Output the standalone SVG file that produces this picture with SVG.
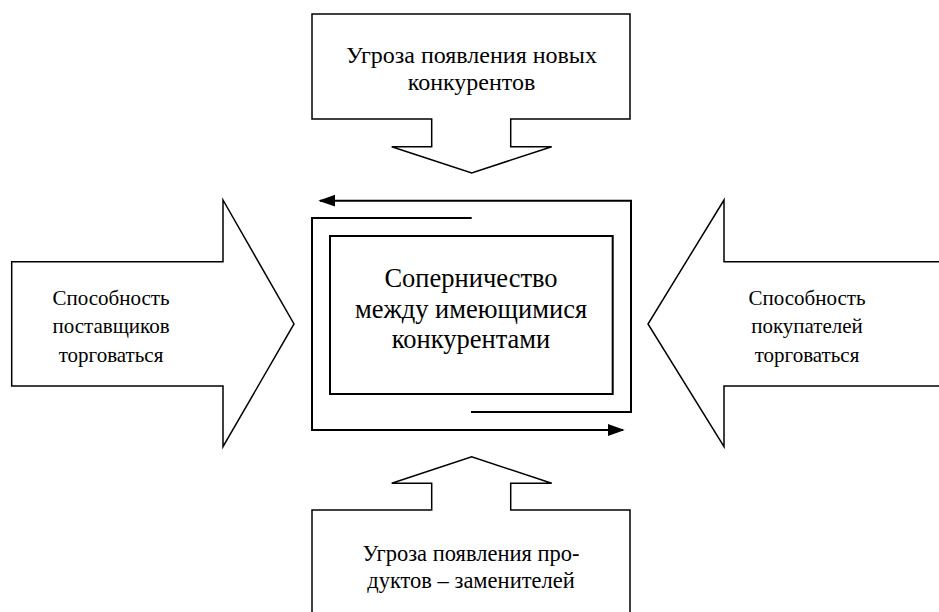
<svg xmlns="http://www.w3.org/2000/svg" width="939" height="612" viewBox="0 0 939 612">
<defs>
<style>
.shape{fill:#fff;stroke:#000;stroke-width:1.5;stroke-linejoin:miter}
.loop{fill:none;stroke:#000;stroke-width:2}
.t{font-family:"Liberation Serif","Times New Roman",serif;fill:#000;text-anchor:middle}
.s24{font-size:24px}
.s22{font-size:22.5px}
.s21{font-size:21px}
.s26{font-size:26.5px}
</style>
<marker id="ah2" viewBox="0 0 10 10" refX="9" refY="5" markerWidth="17" markerHeight="12" markerUnits="userSpaceOnUse" orient="auto" preserveAspectRatio="none">
<path d="M0,0 L10,5 L0,10 z" fill="#000"/>
</marker>
</defs>
<rect width="939" height="612" fill="#fff"/>
<g id="top">
<path class="shape" d="M312,14 H630 V119 H510.7 V146.7 H551.7 L471.7,173 L391.7,146.7 H431.7 V119 H312 Z"/>
<text class="t s24" x="471.5" y="63">Угроза появления новых</text>
<text class="t s24" x="471.5" y="90">конкурентов</text>
</g>
<g id="left">
<path class="shape" d="M11.7,261.7 H223 V200 L294,324 L223,446.7 V386 H11.7 Z"/>
<text class="t s21" x="111" y="305">Способность</text>
<text class="t s21" x="111" y="333">поставщиков</text>
<text class="t s21" x="111" y="362">торговаться</text>
</g>
<g id="right">
<path class="shape" d="M945,261.7 H724 V200 L648,324 L724,446.7 V386 H945"/>
<text class="t s21" x="807" y="305">Способность</text>
<text class="t s21" x="807" y="333">покупателей</text>
<text class="t s21" x="807" y="362">торговаться</text>
</g>
<g id="bottom">
<path class="shape" d="M312,620 V510 H431.7 V483.3 H391.7 L471.7,456.7 L551.7,483.3 H510.7 V510 H630 V620"/>
<text class="t s22" x="471" y="561">Угроза появления про-</text>
<text class="t s22" x="471" y="588">дуктов – заменителей</text>
</g>
<g id="center">
<rect class="loop" x="330" y="236" width="282.7" height="158"/>
<text class="t s26" x="471" y="287">Соперничество</text>
<text class="t s26" x="471" y="318">между имеющимися</text>
<text class="t s26" x="471" y="348">конкурентами</text>
</g>
<g id="connectors">
<path class="loop" d="M471,412 H631 V200.7 H320" marker-end="url(#ah2)"/>
<path class="loop" d="M471.7,218 H312 V430 H623" marker-end="url(#ah2)"/>
</g>
</svg>
